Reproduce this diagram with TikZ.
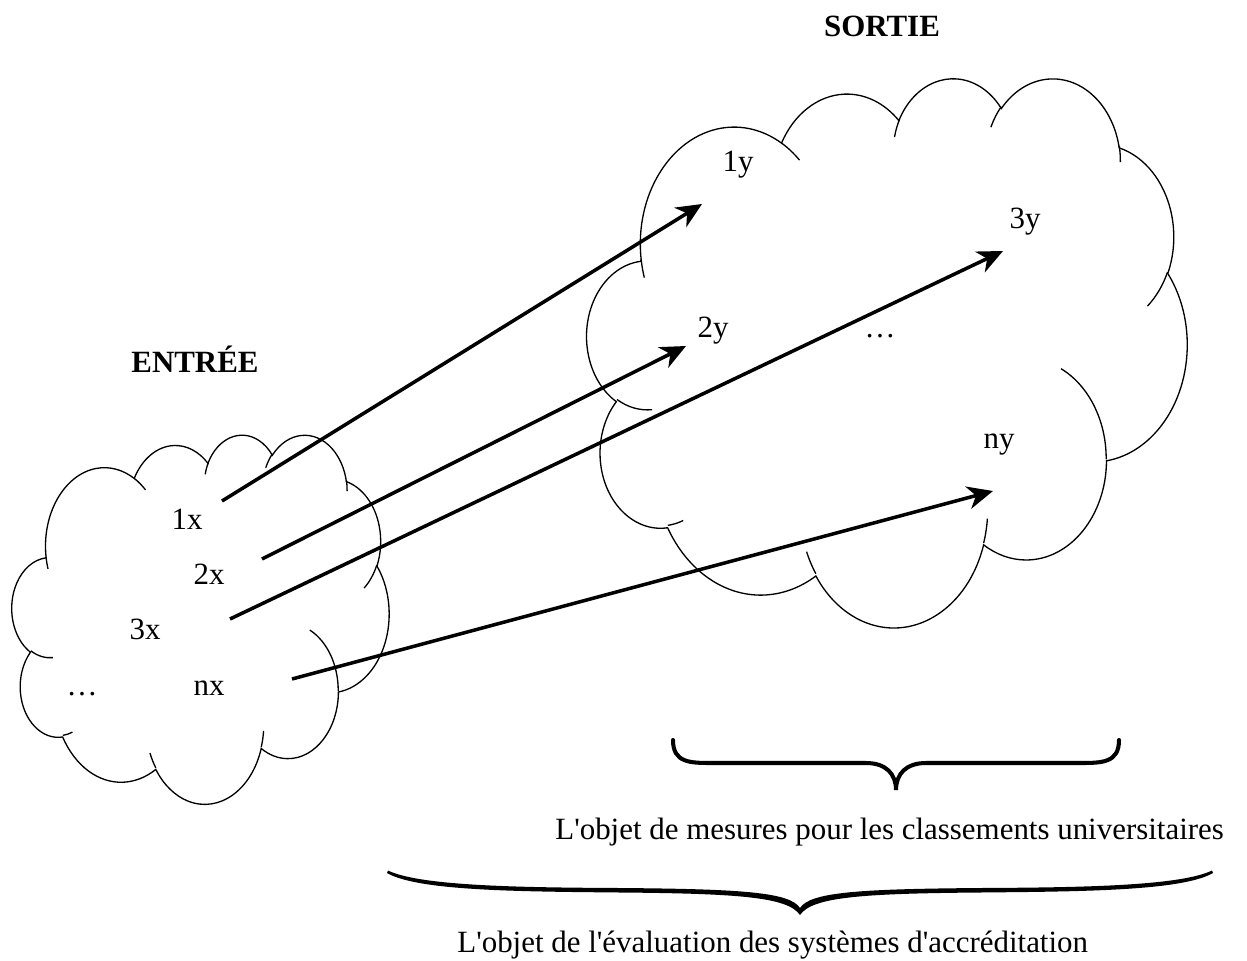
\documentclass[tikz,border=0pt]{standalone}
\usepackage{fontspec}
\newfontfamily\timesfont{Liberation Serif}
\usetikzlibrary{arrows.meta}

% one puff of the cloud outline: x radius, y radius, start angle, sweep (angles as seen on the ellipse)
\newcommand{\puff}[4]{arc[x radius=#1, y radius=#2, start angle={atan2(#1*sin(#3),#2*cos(#3))}, delta angle={mod(atan2(#1*sin(#3+#4),#2*cos(#3+#4))-atan2(#1*sin(#3),#2*cos(#3))+720,360)}]}

% the whole cloud in a 43.2 x 43.2 box, placed by the scope options
\newcommand{\cloudshape}[1]{%
  \begin{scope}[#1]
    \draw [cloudline] (3.900,14.370) \puff{6.753}{9.190}{-190.4875}{123.7805} \puff{5.333}{7.267}{-144.1024}{89.9452}
      \puff{4.365}{5.945}{-145.8079}{99.7230} \puff{4.857}{6.595}{-130.9861}{117.2417} \puff{5.333}{7.273}{-78.7089}{109.0269}
      \puff{6.775}{9.220}{-46.2673}{130.2690} \puff{5.785}{7.867}{0.6250}{114.0333} \puff{6.752}{9.215}{22.4516}{115.1726}
      \puff{7.720}{10.543}{66.2426}{75.7110} \puff{4.360}{5.918}{-274.9421}{146.7356} \puff{4.345}{5.945}{-246.8285}{152.5189} -- cycle;
    % inner strokes
    \draw [cloudline] (4.693,26.177) \puff{4.345}{5.945}{86.7420}{26.4295}
      (6.928,34.899) \puff{4.360}{5.918}{73.6105}{11.4475}
      (16.478,39.090) \puff{6.752}{9.215}{137.6242}{14.0811}
      (28.827,34.751) \puff{6.752}{9.215}{6.4533}{15.9984}
      (34.129,22.954) \puff{5.785}{7.867}{-70.2924}{70.9174}
      (41.798,15.354) \puff{5.333}{7.273}{30.3180}{27.7515}
      (38.324,5.426) \puff{4.857}{6.595}{-13.7443}{14.8589}
      (29.078,3.952) \puff{4.857}{6.595}{-149.1815}{18.1954}
      (22.141,4.720) \puff{4.365}{5.945}{-163.4943}{17.6864}
      (14.000,5.192) \puff{6.753}{9.190}{-66.7070}{12.3194}
      (4.127,15.789) \puff{6.753}{9.190}{157.6544}{11.8582};
  \end{scope}}

\begin{document}
\begin{tikzpicture}[x=0.02cm, y=-0.02cm,
    cloudline/.style={line width=0.75pt},
    lbl/.style={font=\timesfont\fontsize{17.6pt}{21pt}\selectfont, anchor=base, inner sep=0pt},
    heading/.style={lbl, font=\timesfont\fontsize{17.6pt}{21pt}\selectfont\bfseries},
    link/.style={line width=2pt, -{Stealth[length=14.5pt, width=13pt, inset=4.5pt]}},
    bracestroke/.style={line width=2.3pt, line cap=round}]
    \useasboundingbox (0,0) rectangle (1247,960);

    \cloudshape{shift={(12,434)}, xscale=8.727, yscale=8.542}
    \cloudshape{shift={(587,77)}, xscale=13.889, yscale=12.708}

    \node [heading] (input title) at (195,372) {ENTRÉE};
    \node [heading] (output title) at (882,36) {SORTIE};

    \node [lbl] (x1) at (187,529) {1x};
    \node [lbl] (x2) at (209,584) {2x};
    \node [lbl] (x3) at (145,639) {3x};
    \node [lbl] (xn) at (209,695) {nx};
    \node [lbl] (x dots) at (82,695) {…};

    \node [lbl] (y1) at (738,171) {1y};
    \node [lbl] (y2) at (713,337) {2y};
    \node [lbl] (y3) at (1025,228) {3y};
    \node [lbl] (yn) at (999,448) {ny};
    \node [lbl] (y dots) at (880,337) {…};

    \coordinate (x1 tail) at (222,501);
    \coordinate (x2 tail) at (262,559);
    \coordinate (x3 tail) at (230,619);
    \coordinate (xn tail) at (292,679);
    \coordinate (y1 head) at (702,204);
    \coordinate (y2 head) at (686,346);
    \coordinate (y3 head) at (1003,251);
    \coordinate (yn head) at (993,491);

    \draw [link] (x1 tail) -- (y1 head);
    \draw [link] (x2 tail) -- (y2 head);
    \draw [link] (x3 tail) -- (y3 head);
    \draw [link] (xn tail) -- (yn head);

    \draw [bracestroke] (673,740) .. controls (673,763) and (690,763) .. (713,763) -- (866,763)
      .. controls (886,763) and (896,774) .. (896,790) .. controls (896,774) and (906,763) .. (926,763)
      -- (1079,763) .. controls (1102,763) and (1119,763) .. (1119,740);
    \node [lbl, anchor=base west] (rankings text) at (555,839) {L'objet de mesures pour les classements universitaires};

    % long brace, thin at the ends
    \fill (388,870.5) .. controls (420,886) and (520,887.5) .. (620,888) .. controls (740,889) and (790,892) .. (800,908)
      .. controls (810,892) and (860,889) .. (980,888) .. controls (1080,887.5) and (1180,886) .. (1212,870.5)
      -- (1213,873) .. controls (1182,891) and (1080,891.5) .. (980,892.5) .. controls (862,893.5) and (812,897) .. (800,915)
      .. controls (788,897) and (738,893.5) .. (620,892.5) .. controls (520,891.5) and (418,891) .. (387,873) -- cycle;
    \node [lbl, anchor=base west] (accreditation text) at (457,952) {L'objet de l'évaluation des systèmes d'accréditation};
\end{tikzpicture}
\end{document}
